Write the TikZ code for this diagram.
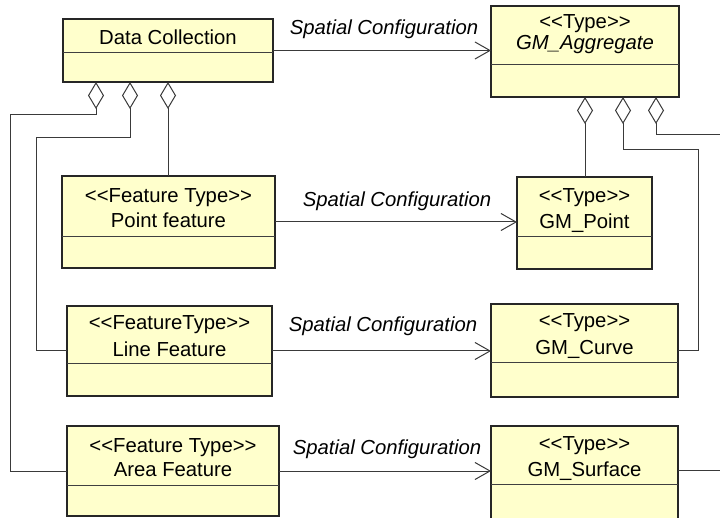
\documentclass[tikz,border=0pt]{standalone}
\usepackage{fontspec}
\setmainfont{Liberation Sans}
\usetikzlibrary{arrows.meta}
\definecolor{classfill}{HTML}{FFFFCC}
\definecolor{wire}{HTML}{3A3A3A}
% stereotype brackets, kept apart so they are not turned into guillemets
\newcommand{\stereo}[1]{<\kern0pt<#1>\kern0pt>}
\tikzset{
  classbox/.style={draw=black!85, line width=1.2pt, fill=classfill,
    inner sep=0pt, outer sep=0pt, anchor=north west},
  divider/.style={draw=black!75, line width=1pt},
  cls/.style={font=\fontsize{20.3}{24}\selectfont, anchor=base, inner sep=0pt},
  rolelabel/.style={font=\fontsize{20.3}{24}\selectfont\itshape, anchor=base, inner sep=0pt},
  assoc/.style={draw=wire, line width=1pt,
    -{Straight Barb[length=15pt,width=17pt,line width=1pt]}},
  aggr/.style={draw=wire, line width=1pt,
    {Diamond[open,length=27pt,width=16pt,line width=1pt]}-},
}
\begin{document}
\begin{tikzpicture}[x=1pt,y=-1pt]
\clip (0,0) rectangle (720,518);
\fill[white] (0,0) rectangle (720,518);

% ---- classes ----
\node[classbox, minimum width=210pt, minimum height=63pt] (dc) at (63,19) {};
\draw[divider] (dc.west |- 0,53) -- (dc.east |- 0,53);
\node[cls] (dc-t) at (168,45) {Data Collection};

\node[classbox, minimum width=188pt, minimum height=91pt] (agg) at (491,6) {};
\draw[divider] (agg.west |- 0,65) -- (agg.east |- 0,65);
\node[cls] (agg-s) at (585,29) {\stereo{Type}};
\node[cls, font=\fontsize{20.3}{24}\selectfont\itshape] (agg-t) at (585,50) {GM\_Aggregate};

\node[classbox, minimum width=213pt, minimum height=92pt] (pf) at (62,176) {};
\draw[divider] (pf.west |- 0,237) -- (pf.east |- 0,237);
\node[cls] (pf-s) at (168.5,203) {\stereo{Feature Type}};
\node[cls] (pf-t) at (168.5,228) {Point feature};

\node[classbox, minimum width=135pt, minimum height=92pt] (gp) at (517,177) {};
\draw[divider] (gp.west |- 0,237) -- (gp.east |- 0,237);
\node[cls] (gp-s) at (584.5,203) {\stereo{Type}};
\node[cls] (gp-t) at (584.5,229) {GM\_Point};

\node[classbox, minimum width=205pt, minimum height=90pt] (lf) at (67,306) {};
\draw[divider] (lf.west |- 0,364) -- (lf.east |- 0,364);
\node[cls] (lf-s) at (169.5,330) {\stereo{FeatureType}};
\node[cls] (lf-t) at (169.5,356) {Line Feature};

\node[classbox, minimum width=187pt, minimum height=93pt] (gc) at (491,304) {};
\draw[divider] (gc.west |- 0,363) -- (gc.east |- 0,363);
\node[cls] (gc-s) at (584.5,328) {\stereo{Type}};
\node[cls] (gc-t) at (584.5,355) {GM\_Curve};

\node[classbox, minimum width=212pt, minimum height=90pt] (af) at (67,426) {};
\draw[divider] (af.west |- 0,485) -- (af.east |- 0,485);
\node[cls] (af-s) at (173,452) {\stereo{Feature Type}};
\node[cls] (af-t) at (173,476) {Area Feature};

% the lower part of this class runs past the bottom edge
\node[classbox, minimum width=187pt, minimum height=100pt] (gs) at (491,426) {};
\draw[divider] (gs.west |- 0,484) -- (gs.east |- 0,484);
\node[cls] (gs-s) at (584.5,450) {\stereo{Type}};
\node[cls] (gs-t) at (584.5,476) {GM\_Surface};

% ---- associations ----
\draw[assoc] (dc.east) -- (dc.east -| agg.west);
\node[rolelabel] (l1) at (384,35) {Spatial Configuration};
\draw[assoc] (pf.east) -- (pf.east -| gp.west);
\node[rolelabel] (l2) at (397,207) {Spatial Configuration};
\draw[assoc] (lf.east) -- (lf.east -| gc.west);
\node[rolelabel] (l3) at (383,332) {Spatial Configuration};
\draw[assoc] (af.east) -- (af.east -| gs.west);
\node[rolelabel] (l4) at (387,454) {Spatial Configuration};

% ---- aggregations of Data Collection ----
\draw[aggr] ([xshift=33pt]dc.south west) |- (10,115) |- (af.west);
\draw[aggr] ([xshift=67pt]dc.south west) |- (36,138) |- (lf.west);
\draw[aggr] (dc.south) -- (dc.south |- pf.north);

% ---- aggregations of GM_Aggregate ----
\coordinate (offA) at (730,135);
\coordinate (offB) at (730,470);
\draw[aggr] (agg.south) -- (agg.south |- gp.north);
\draw[aggr] ([xshift=38pt]agg.south) |- (698,150) |- (gc.east);
\draw[aggr] ([xshift=71pt]agg.south) |- (offA);
\draw[draw=wire, line width=1pt] (gs.east |- offB) -- (offB);
\end{tikzpicture}
\end{document}
